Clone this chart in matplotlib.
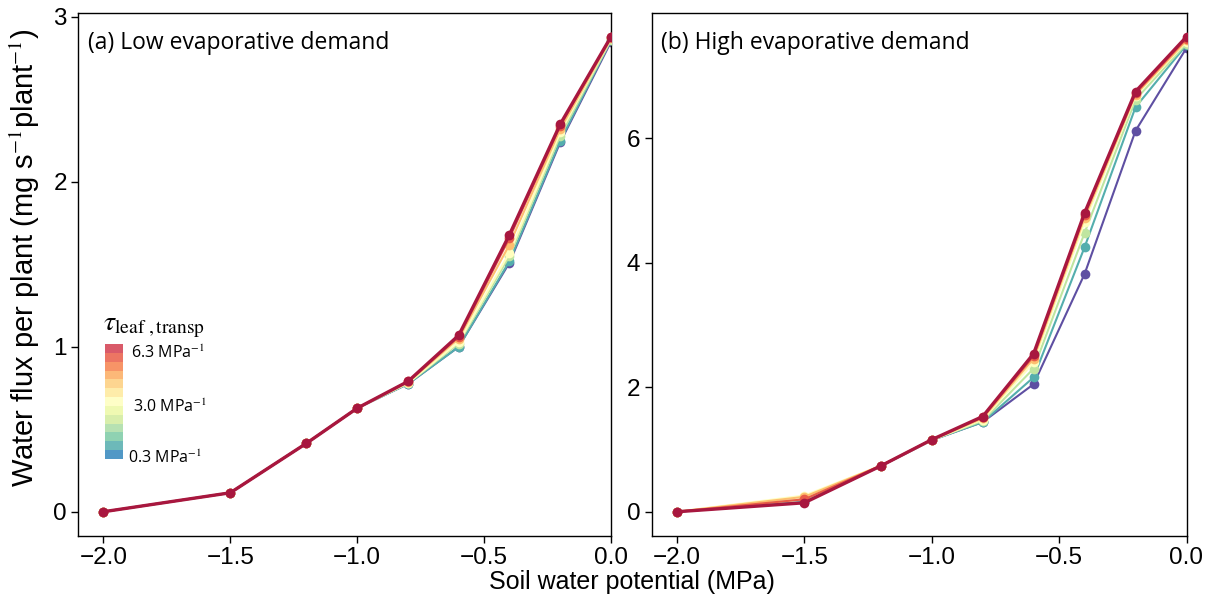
import numpy as np
import matplotlib
matplotlib.use("Agg")
import matplotlib.pyplot as plt

# Soil water potential (MPa)
psi_soil = [-2.0, -1.5, -1.2, -1.0, -0.8, -0.6, -0.4, -0.2, 0.0]

# tau_leaf,transp values (MPa^-1)
tau_values = [0.3, 1.3, 2.3, 3.3, 4.3, 5.3, 6.3]

# Water flux per plant, low evaporative demand (one row per tau)
flux_low = [
    [0, 0.115, 0.415, 0.628, 0.775, 1.00, 1.51, 2.24, 2.85],
    [0, 0.115, 0.415, 0.628, 0.775, 1.00, 1.52, 2.25, 2.86],
    [0, 0.115, 0.415, 0.628, 0.778, 1.02, 1.55, 2.28, 2.86],
    [0, 0.115, 0.415, 0.628, 0.780, 1.03, 1.57, 2.30, 2.87],
    [0, 0.115, 0.415, 0.628, 0.785, 1.05, 1.62, 2.32, 2.87],
    [0, 0.115, 0.415, 0.628, 0.790, 1.06, 1.66, 2.34, 2.88],
    [0, 0.115, 0.415, 0.628, 0.790, 1.07, 1.68, 2.35, 2.88],
]

# Water flux per plant, high evaporative demand (one row per tau)
flux_high = [
    [0, 0.15, 0.735, 1.15, 1.44, 2.05, 3.82, 6.12, 7.45],
    [0, 0.16, 0.735, 1.15, 1.44, 2.16, 4.25, 6.50, 7.50],
    [0, 0.20, 0.735, 1.15, 1.46, 2.30, 4.48, 6.62, 7.52],
    [0, 0.26, 0.740, 1.15, 1.48, 2.40, 4.65, 6.68, 7.55],
    [0, 0.24, 0.740, 1.155, 1.50, 2.46, 4.72, 6.70, 7.57],
    [0, 0.20, 0.740, 1.158, 1.52, 2.50, 4.77, 6.72, 7.60],
    [0, 0.144, 0.736, 1.158, 1.53, 2.54, 4.80, 6.75, 7.63],
]

panel_titles = ["(a) Low evaporative demand", "(b) High evaporative demand"]
legend_labels = ["6.3 MPa$^{-1}$", "3.0 MPa$^{-1}$", "0.3 MPa$^{-1}$"]
x_tick_labels = ["\u22122.0", "\u22121.5", "\u22121.0", "\u22120.5", "0.0"]

W, H = 1214, 602
fig = plt.figure(figsize=(W / 100, H / 100), dpi=100)
plt.rcParams["mathtext.fontset"] = "stix"

tick_size = 17.5
title_font = dict(family="Open Sans", size=16.5)

ax_low = fig.add_axes([78 / W, 1 - 535.5 / H, (611 - 78) / W, (535.5 - 13) / H])
ax_high = fig.add_axes([651.5 / W, 1 - 535.5 / H, (1186.5 - 651.5) / W, (535.5 - 13) / H])

cmap = matplotlib.colormaps["Spectral_r"]
n = len(tau_values)
colors = [cmap(i / (n - 1)) for i in range(n)]
colors[-1] = "#a8173f"

for ax, data, title, ymax, yticks in [
    (ax_low, flux_low, panel_titles[0], 2.88, [0, 1, 2, 3]),
    (ax_high, flux_high, panel_titles[1], 7.63, [0, 2, 4, 6]),
]:
    for i, (tau, yv) in enumerate(zip(tau_values, data)):
        lw = 2.4 if i == n - 1 else 1.5
        ax.plot(psi_soil, yv, color=colors[i], lw=lw, marker="o", ms=7,
                markeredgewidth=0, zorder=2 + i, solid_capstyle="round")
    ax.set_xlim(-2.1, 0.0)
    ax.set_ylim(-0.05 * ymax, 1.05 * ymax)
    ax.set_xticks([-2.0, -1.5, -1.0, -0.5, 0.0])
    ax.set_xticklabels(x_tick_labels)
    ax.set_yticks(yticks)
    for lab in ax.get_xticklabels() + ax.get_yticklabels():
        lab.set_fontfamily("Liberation Sans")
        lab.set_fontsize(tick_size)
    ax.tick_params(direction="out", length=5, width=1, color="black", pad=3)
    for s in ax.spines.values():
        s.set_linewidth(1.0)
        s.set_color("black")
    ax.text(0.018, 0.9426, title, transform=ax.transAxes, ha="left", va="center", **title_font)

ax_low.set_ylabel("Water flux per plant (mg s$^{-1}$plant$^{-1}$)",
                  fontfamily="Liberation Sans", fontsize=21)
ax_low.yaxis.set_label_coords(-36 / (611 - 78), 0.531)
fig.text((612 + 651) / 2 / W, 1 - 582 / H, "Soil water potential (MPa)",
         ha="center", va="center", fontfamily="Liberation Sans", fontsize=18)

# Colour legend for tau_leaf,transp
cax = fig.add_axes([105 / W, 1 - 459 / H, (123 - 105) / W, (459 - 344) / H])
steps = 13
grad = np.array([cmap(0.1 + 0.8 * k / (steps - 1)) for k in range(steps)])[::-1]
grad[:, 3] = 0.85
cax.imshow(grad.reshape(steps, 1, 4), aspect="auto", interpolation="nearest")
cax.set_axis_off()

fig.text(103 / W, 1 - 326 / H, r"$\tau_{\mathrm{leaf\ ,transp}}$",
         ha="left", va="center", fontsize=20)
for lbl, yy, xx in zip(legend_labels, [353, 407, 458], [131, 133, 128]):
    fig.text(xx / W, 1 - yy / H, lbl, ha="left", va="center",
             fontfamily="Open Sans", fontsize=11.5)

fig.savefig("out.png", dpi=100)
